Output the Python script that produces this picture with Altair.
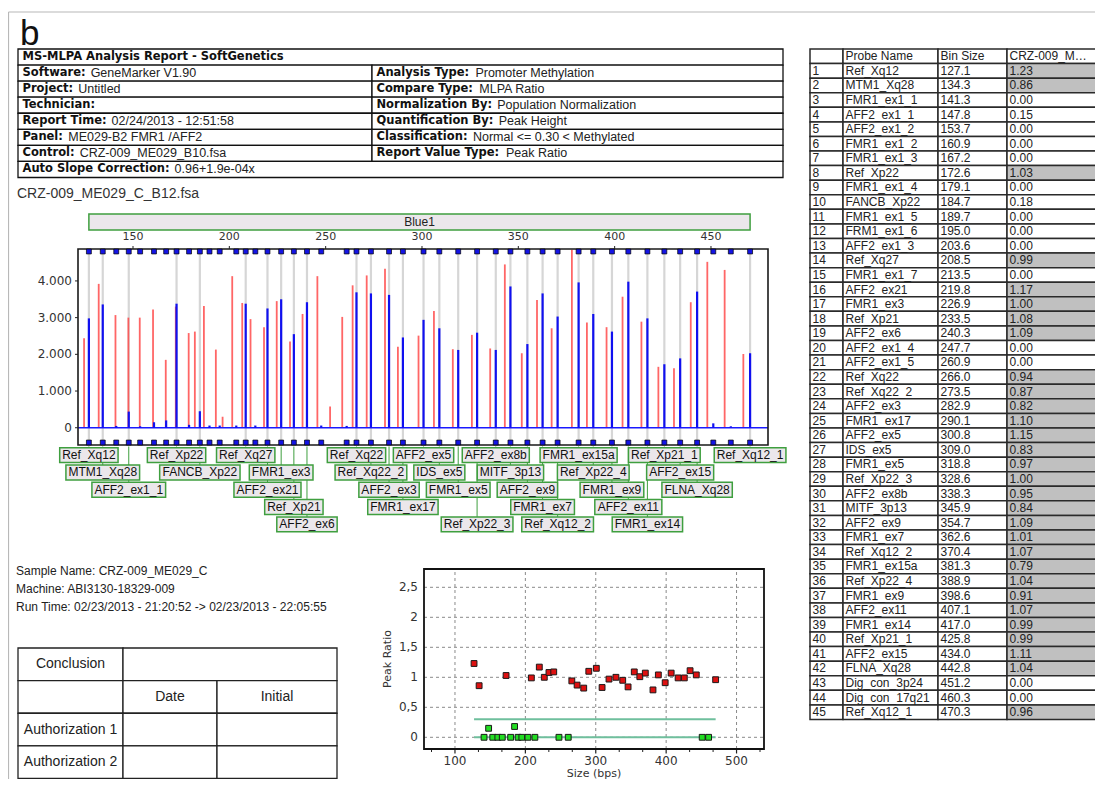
import altair as alt
import pandas as pd

# ------------------------------------------------------------------ data
probe_names = ["Ref_Xq12", "MTM1_Xq28", "FMR1_ex1_1", "AFF2_ex1_1", "AFF2_ex1_2", "FMR1_ex1_2",
               "FMR1_ex1_3", "Ref_Xp22", "FMR1_ex1_4", "FANCB_Xp22", "FMR1_ex1_5", "FRM1_ex1_6",
               "AFF2_ex1_3", "Ref_Xq27", "FMR1_ex1_7", "AFF2_ex21", "FMR1_ex3", "Ref_Xp21",
               "AFF2_ex6", "AFF2_ex1_4", "AFF2_ex1_5", "Ref_Xq22", "Ref_Xq22_2", "AFF2_ex3",
               "FMR1_ex17", "AFF2_ex5", "IDS_ex5", "FMR1_ex5", "Ref_Xp22_3", "AFF2_ex8b",
               "MITF_3p13", "AFF2_ex9", "FMR1_ex7", "Ref_Xq12_2", "FMR1_ex15a", "Ref_Xp22_4",
               "FMR1_ex9", "AFF2_ex11", "FMR1_ex14", "Ref_Xp21_1", "AFF2_ex15", "FLNA_Xq28",
               "Dig_con_3p24", "Dig_con_17q21", "Ref_Xq12_1"]
bin_sizes = [127.1, 134.3, 141.3, 147.8, 153.7, 160.9, 167.2, 172.6, 179.1, 184.7, 189.7, 195.0,
             203.6, 208.5, 213.5, 219.8, 226.9, 233.5, 240.3, 247.7, 260.9, 266.0, 273.5, 282.9,
             290.1, 300.8, 309.0, 318.8, 328.6, 338.3, 345.9, 354.7, 362.6, 370.4, 381.3, 388.9,
             398.6, 407.1, 417.0, 425.8, 434.0, 442.8, 451.2, 460.3, 470.3]
peak_ratios = [1.23, 0.86, 0.00, 0.15, 0.00, 0.00, 0.00, 1.03, 0.00, 0.18, 0.00, 0.00,
               0.00, 0.99, 0.00, 1.17, 1.00, 1.08, 1.09, 0.00, 0.00, 0.94, 0.87, 0.82,
               1.10, 1.15, 0.83, 0.97, 1.00, 0.95, 0.84, 1.09, 1.01, 1.07, 0.79, 1.04,
               0.91, 1.07, 0.99, 0.99, 1.11, 1.04, 0.00, 0.00, 0.96]
# sample trace (blue) peak heights, one per probe
blue_heights = [2980, 3360, 50, 440, 40, 150, 200, 3380, 80, 450, 60, 60,
                60, 3380, 60, 3250, 3500, 2550, 3420, 60, 50, 3690, 3660, 3620,
                2460, 2940, 2710, 2120, 2590, 2120, 3850, 2280, 3660, 3030, 3960, 3100,
                2620, 3980, 2980, 1730, 1890, 3710, 120, 40, 2030]
# control trace (red) peaks
red_sizes = [124.6, 132.2, 140.9, 147.6, 153.5, 160.4, 167.0, 172.2, 178.9, 182.1,
             186.8, 193.0, 196.5, 201.5, 206.7, 211.0, 218.0, 224.6, 231.5, 238.0,
             245.7, 252.3, 258.6, 264.0, 271.3, 280.8, 287.5, 298.2, 306.2, 316.0,
             325.9, 335.4, 343.0, 351.8, 359.7, 367.3, 377.8, 385.6, 395.8, 404.1,
             413.9, 422.7, 430.8, 439.5, 448.1, 457.1, 466.8]
red_heights = [2440, 3920, 3070, 3000, 3000, 3220, 1850, 3300, 2580, 2620,
               3320, 2130, 300, 4130, 3400, 2960, 2740, 3450, 2350, 3100,
               4130, 580, 3020, 3880, 4150, 4330, 2210, 2510, 3180, 2140,
               2530, 2160, 4450, 2030, 3480, 2710, 4850, 2870, 2740, 3570,
               2890, 1660, 1620, 3420, 4520, 4300, 2010]
cutoff = 0.30

figure_letter = "b"
sample_file = "CRZ-009_ME029_C_B12.fsa"
report_title = "MS-MLPA Analysis Report  - SoftGenetics"
report_left_labels = ["Software:", "Project:", "Technician:", "Report Time:", "Panel:", "Control:"]
report_left_values = ["GeneMarker V1.90", "Untitled", "", "02/24/2013 - 12:51:58",
                      "ME029-B2 FMR1 /AFF2", "CRZ-009_ME029_B10.fsa"]
report_right_labels = ["Analysis Type:", "Compare Type:", "Normalization By:",
                       "Quantification By:", "Classification:", "Report Value Type:"]
report_right_values = ["Promoter Methylation", "MLPA Ratio", "Population Normalization",
                       "Peak Height", "Normal <= 0.30 < Methylated", "Peak Ratio"]
slope_label = "Auto Slope Correction:"
slope_value = "0.96+1.9e-04x"
dye_name = "Blue1"
sample_info = ["Sample Name: CRZ-009_ME029_C", "Machine: ABI3130-18329-009",
               "Run Time: 02/23/2013 - 21:20:52 -> 02/23/2013 - 22:05:55"]
conclusion_texts = ["Conclusion", "Date", "Initial", "Authorization 1", "Authorization 2"]
table_headers = ["", "Probe Name", "Bin Size", "CRZ-009_ME029"]
electro_x_ticks = [150, 200, 250, 300, 350, 400, 450]
electro_y_ticks = [0, 1000, 2000, 3000, 4000]
scatter_x_ticks = [100, 200, 300, 400, 500]
scatter_y_ticks = [0, 0.5, 1, 1.5, 2, 2.5]
scatter_x_title = "Size (bps)"
scatter_y_title = "Peak Ratio"

# ------------------------------------------------------------------ layout / style
W, H = 1087, 771


def P(v):
    return v - 8


ARIAL_F = "Liberation Sans, Arial, sans-serif"
DEJA_F = "DejaVu Sans, Verdana, sans-serif"

ARIAL = {}
for ch, w in zip("ABCDEFGHIJKLMNOPQRSTUVWXYZ",
                 [667, 667, 722, 722, 667, 611, 778, 722, 278, 500, 667, 556, 833, 722, 778,
                  667, 778, 722, 667, 611, 722, 667, 944, 667, 667, 611]):
    ARIAL[ch] = w
for ch, w in zip("abcdefghijklmnopqrstuvwxyz",
                 [556, 556, 500, 556, 556, 278, 556, 556, 222, 222, 500, 222, 833, 556, 556,
                  556, 556, 333, 500, 278, 556, 500, 722, 500, 500, 500]):
    ARIAL[ch] = w
for ch in "0123456789_":
    ARIAL[ch] = 556
ARIAL.update({" ": 278, ".": 278, "-": 333, ":": 278, "/": 278})

DJB = {}
for ch, w in zip("ABCDEFGHIJKLMNOPQRSTUVWXYZ",
                 [774, 762, 734, 830, 683, 683, 821, 837, 372, 372, 775, 637, 995, 837, 850,
                  733, 850, 770, 720, 682, 812, 774, 1103, 771, 724, 725]):
    DJB[ch] = w
for ch, w in zip("abcdefghijklmnopqrstuvwxyz",
                 [675, 716, 593, 716, 678, 435, 716, 712, 343, 343, 665, 343, 1042, 712, 687,
                  716, 716, 493, 595, 478, 712, 652, 924, 645, 652, 582]):
    DJB[ch] = w
for ch in "0123456789":
    DJB[ch] = 696
DJB.update({" ": 348, ":": 400, ".": 380, "-": 415, "_": 500})


def text_w(s, size, table):
    return sum(table.get(c, 600) for c in s) * size / 1000.0


def lin(domain, r0, r1):
    return alt.Scale(domain=list(domain), range=[P(r0), P(r1)], nice=False, zero=False)


def txt(chart_df, xs, ys, **mk):
    return alt.Chart(chart_df).mark_text(**mk).encode(
        x=alt.X("x:Q", scale=xs, axis=None),
        y=alt.Y("y:Q", scale=ys, axis=None),
        text="text:N")


def seg(chart_df, xs, ys, x2=None, y2=None, mark="rule", **mk):
    enc = dict(x=alt.X("x0:Q", scale=xs, axis=None), y=alt.Y("y0:Q", scale=ys, axis=None))
    if x2:
        enc["x2"] = x2
    if y2:
        enc["y2"] = y2
    base = alt.Chart(chart_df)
    m = base.mark_rule(**mk) if mark == "rule" else base.mark_rect(**mk)
    return m.encode(**enc)


# ------------------------------------------------------------------ page frame
fx = lin([0, 1], 8.5, 1103)
fy = lin([0, 1], 12, 787)
page_df = pd.DataFrame({"x0": [0, 0], "x1": [1, 0], "y0": [0, 0], "y1": [0, 1]})
page = seg(page_df, fx, fy, x2="x1:Q", y2="y1:Q", color="#b8b8b8", strokeWidth=1.2)

# ------------------------------------------------------------------ captions
cap_x = lin([0, 1], 20, 17)
cap_y = lin([0, 1], 45, 193.5)
cap_df = pd.DataFrame({"text": [figure_letter, sample_file], "x": [0, 1], "y": [0, 1]})
captions = alt.layer(
    txt(cap_df.iloc[[0]], cap_x, cap_y, align="left", baseline="alphabetic",
        font=ARIAL_F, fontSize=35, color="#111"),
    txt(cap_df.iloc[[1]], cap_x, cap_y, align="left", baseline="middle",
        font=ARIAL_F, fontSize=14, color="#333"),
)

# ------------------------------------------------------------------ report table
rx = lin([0, 765], 18, 783)
ry = lin([0, 8], 49, 177.5)
SPLIT = 354
rcells = [dict(x0=0, x1=765, y0=0, y1=1)]
for i in range(1, 7):
    rcells.append(dict(x0=0, x1=SPLIT, y0=i, y1=i + 1))
    rcells.append(dict(x0=SPLIT, x1=765, y0=i, y1=i + 1))
rcells.append(dict(x0=0, x1=765, y0=7, y1=8))
rcells = pd.DataFrame(rcells)

bold_rows, norm_rows = [], []
PADL = 4.5
bold_rows.append(dict(text=report_title, x=PADL, y=0.5))
for i, (lab, val) in enumerate(zip(report_left_labels, report_left_values)):
    bold_rows.append(dict(text=lab, x=PADL, y=i + 1.5))
    norm_rows.append(dict(text=val, x=PADL + text_w(lab, 11.5, DJB) + 5, y=i + 1.5))
for i, (lab, val) in enumerate(zip(report_right_labels, report_right_values)):
    bold_rows.append(dict(text=lab, x=SPLIT + PADL, y=i + 1.5))
    norm_rows.append(dict(text=val, x=SPLIT + PADL + text_w(lab, 11.5, DJB) + 5, y=i + 1.5))
bold_rows.append(dict(text=slope_label, x=PADL, y=7.5))
norm_rows.append(dict(text=slope_value, x=PADL + text_w(slope_label, 11.5, DJB) + 5, y=7.5))

report = alt.layer(
    seg(rcells, rx, ry, x2="x1:Q", y2="y1:Q", mark="rect", fill="white", stroke="#111",
        strokeWidth=1.3),
    txt(pd.DataFrame(bold_rows), rx, ry, align="left", baseline="middle",
        font=DEJA_F, fontSize=11.5, fontWeight="bold", color="#111"),
    txt(pd.DataFrame(norm_rows), rx, ry, align="left", baseline="middle",
        font=ARIAL_F, fontSize=12.5, color="#222"),
)

# ------------------------------------------------------------------ electropherogram
EP_X = [121.45, 479.6]
EP_Y = [-470, 4870]
EP_L, EP_R, EP_T, EP_B = 78, 768, 249, 445
ex = lin(EP_X, EP_L, EP_R)
ey = lin(EP_Y, EP_B, EP_T)
PX_PER_UNIT = (EP_R - EP_L) / (EP_X[1] - EP_X[0])
PY_PER_UNIT = (EP_B - EP_T) / (EP_Y[1] - EP_Y[0])

probe_df = pd.DataFrame({"name": probe_names, "size": bin_sizes, "ratio": peak_ratios,
                         "blue": blue_heights})
probe_df["base"] = 0.0
probe_df["ylo"] = float(EP_Y[0])
probe_df["yhi"] = float(EP_Y[1])
present = probe_df[probe_df["ratio"] > 0].reset_index(drop=True)
red_df = pd.DataFrame({"size": red_sizes, "h": red_heights})
red_df["base"] = 0.0
ebox = pd.DataFrame([{"x0": EP_X[0], "x1": EP_X[1], "y0": EP_Y[0], "y1": EP_Y[1], "zero": 0.0}])
etick_x = pd.DataFrame({"x0": electro_x_ticks, "y0": EP_Y[1],
                        "y1": EP_Y[1] + 3 / PY_PER_UNIT})
etick_y = pd.DataFrame({"y0": electro_y_ticks, "x0": EP_X[0],
                        "x1": EP_X[0] - 3 / PX_PER_UNIT})

electro = alt.layer(
    alt.Chart(present).mark_rule(color="#d6d6d6", strokeWidth=2.2).encode(
        x=alt.X("size:Q", scale=ex, axis=None),
        y=alt.Y("ylo:Q", scale=ey, axis=None), y2="yhi:Q"),
    alt.Chart(red_df).mark_rule(color="#ff4040", strokeWidth=1.8, opacity=0.8).encode(
        x=alt.X("size:Q", scale=ex, axis=None),
        y=alt.Y("base:Q", scale=ey, axis=None), y2="h:Q"),
    alt.Chart(ebox).mark_rule(color="#1a1aff", strokeWidth=1.4).encode(
        x=alt.X("x0:Q", scale=ex, axis=None), x2="x1:Q",
        y=alt.Y("zero:Q", scale=ey, axis=None)),
    alt.Chart(probe_df).mark_rule(color="#1010f0", strokeWidth=2.2).encode(
        x=alt.X("size:Q", scale=ex, axis=None),
        y=alt.Y("base:Q", scale=ey, axis=None), y2="blue:Q"),
    seg(ebox, ex, ey, x2="x1:Q", y2="y1:Q", mark="rect", fillOpacity=0, stroke="#1a1a1a",
        strokeWidth=1.6),
    seg(etick_x, ex, ey, y2="y1:Q", color="#222", strokeWidth=1),
    seg(etick_y, ex, ey, x2="x1:Q", color="#222", strokeWidth=1),
    alt.Chart(probe_df).mark_square(size=24, fill="#1414e6", stroke="#000", strokeWidth=0.7,
                                    opacity=1, yOffset=2.5).encode(
        x=alt.X("size:Q", scale=ex, axis=None),
        y=alt.Y("yhi:Q", scale=ey, axis=None)),
    alt.Chart(probe_df).mark_square(size=24, fill="#1414e6", stroke="#000", strokeWidth=0.7,
                                    opacity=1, yOffset=-2.5).encode(
        x=alt.X("size:Q", scale=ex, axis=None),
        y=alt.Y("ylo:Q", scale=ey, axis=None)),
)

# axis labels of the trace (through the trace scales)
etop_row = lin([0, 1], 237, 238)
etop_df = pd.DataFrame({"x": electro_x_ticks, "y": 0, "text": [str(v) for v in electro_x_ticks]})
electro_top = txt(etop_df, ex, etop_row, align="center", baseline="middle", font=DEJA_F,
                  fontSize=11, color="#333")
eleft_col = lin([0, 1], 72, 73)
eleft_df = pd.DataFrame({"x": 0, "y": electro_y_ticks,
                         "text": [f"{v:,}".replace(",", ".") for v in electro_y_ticks]})
electro_left = txt(eleft_df, eleft_col, ey, align="right", baseline="middle", font=DEJA_F,
                   fontSize=12, color="#333")

# dye bar above the trace
by = alt.Scale(domain=[dye_name], range=[P(214), P(230)], paddingInner=0, paddingOuter=0)
dye_df = pd.DataFrame({"dye": [dye_name], "x0": [min(bin_sizes)], "x1": [max(bin_sizes)],
                       "mid": [(min(bin_sizes) + max(bin_sizes)) / 2]})
dyebar = alt.layer(
    alt.Chart(dye_df).mark_rect(fill="#ebe7eb", stroke="#3f9f3f", strokeWidth=1.5).encode(
        x=alt.X("x0:Q", scale=ex, axis=None), x2="x1:Q",
        y=alt.Y("dye:N", scale=by, axis=None)),
    alt.Chart(dye_df).mark_text(font=ARIAL_F, fontSize=12, color="#222").encode(
        x=alt.X("mid:Q", scale=ex, axis=None),
        y=alt.Y("dye:N", scale=by, axis=None), text="dye:N"),
)

# probe name boxes (greedy row packing, centred on each probe)
LBL_SIZE, BOX_PAD, MIN_GAP, HALF_H = 12, 5, 5, 0.43
row_right = []
lab_rows = []
for name, s in zip(present["name"], present["size"]):
    cx = EP_L + (s - EP_X[0]) * PX_PER_UNIT
    w = text_w(name, LBL_SIZE, ARIAL) + BOX_PAD
    left, right = cx - w / 2, cx + w / 2
    row = None
    for r, rr in enumerate(row_right):
        if left >= rr + MIN_GAP:
            row = r
            row_right[r] = right
            break
    if row is None:
        row_right.append(right)
        row = len(row_right) - 1
    hu = (w / 2) / PX_PER_UNIT
    lab_rows.append(dict(name=name, size=s, x0=s - hu, x1=s + hu, row=row + 1,
                         y0=row + 1 - HALF_H, y1=row + 1 + HALF_H, top=0.5))
lab_df = pd.DataFrame(lab_rows)
ly = lin([0.5, 5.5], 446.5, 533)
labels = alt.layer(
    alt.Chart(lab_df).mark_rule(color="#3f9f3f", strokeWidth=1).encode(
        x=alt.X("size:Q", scale=ex, axis=None),
        y=alt.Y("top:Q", scale=ly, axis=None), y2="y0:Q"),
    seg(lab_df, ex, ly, x2="x1:Q", y2="y1:Q", mark="rect", fill="#ebe7eb", stroke="#3f9f3f",
        strokeWidth=1.5),
    alt.Chart(lab_df).mark_text(font=ARIAL_F, fontSize=LBL_SIZE, color="#111").encode(
        x=alt.X("size:Q", scale=ex, axis=None),
        y=alt.Y("row:Q", scale=ly, axis=None), text="name:N"),
)

# ------------------------------------------------------------------ sample info text
ix = lin([0, 1], 16, 17)
iy = lin([0, 2], 571, 607)
info_df = pd.DataFrame({"text": sample_info, "x": [0] * 3, "y": [0, 1, 2]})
info = txt(info_df, ix, iy, align="left", baseline="middle", font=ARIAL_F, fontSize=12,
           color="#222")

# ------------------------------------------------------------------ conclusion table
ccx = lin([0, 319], 18, 337)
ccy = lin([0, 4], 648, 778.5)
cedges = [0, 105, 199, 319]
ccells = [dict(x0=0, x1=105, y0=0, y1=1), dict(x0=105, x1=319, y0=0, y1=1)]
for r in range(1, 4):
    for c in range(3):
        ccells.append(dict(x0=cedges[c], x1=cedges[c + 1], y0=r, y1=r + 1))
ccells = pd.DataFrame(ccells)
ctext = pd.DataFrame({
    "text": conclusion_texts,
    "x": [(cedges[0] + cedges[1]) / 2, (cedges[1] + cedges[2]) / 2,
          (cedges[2] + cedges[3]) / 2, (cedges[0] + cedges[1]) / 2,
          (cedges[0] + cedges[1]) / 2],
    "y": [0.5, 1.5, 1.5, 2.5, 3.5]})
conclusion = alt.layer(
    seg(ccells, ccx, ccy, x2="x1:Q", y2="y1:Q", mark="rect", fill="white", stroke="#222",
        strokeWidth=1.3),
    txt(ctext, ccx, ccy, align="center", baseline="middle", font=ARIAL_F, fontSize=14,
        color="#222"),
)

# ------------------------------------------------------------------ peak ratio scatter
SC_X = [56, 539]
SC_Y = [-0.195, 2.805]
SC_L, SC_R, SC_T, SC_B = 424, 764, 569, 749
sx = lin(SC_X, SC_L, SC_R)
sy = lin(SC_Y, SC_B, SC_T)
SY_PX = (SC_B - SC_T) / (SC_Y[1] - SC_Y[0])
gx = pd.DataFrame({"x0": scatter_x_ticks, "y0": SC_Y[0], "y1": SC_Y[1]})
gy = pd.DataFrame({"y0": scatter_y_ticks, "x0": SC_X[0], "x1": SC_X[1]})
thr = pd.DataFrame({"y0": [cutoff, 0.0], "x0": min(bin_sizes), "x1": max(bin_sizes)})
minor = [t + k * 100 / 3 for t in [0, 100, 200, 300, 400, 500] for k in (1, 2)]
minor = [m for m in minor if SC_X[0] < m < SC_X[1]]
minor_df = pd.DataFrame({"x0": minor, "y0": SC_Y[0], "y1": SC_Y[0] - 3 / SY_PX})
major_df = pd.DataFrame({"x0": scatter_x_ticks, "y0": SC_Y[0], "y1": SC_Y[0] - 4.5 / SY_PX})
sbox = pd.DataFrame([{"x0": SC_X[0], "x1": SC_X[1], "y0": SC_Y[0], "y1": SC_Y[1]}])

scatter = alt.layer(
    seg(gx, sx, sy, y2="y1:Q", color="#8a8a8a", strokeWidth=1, strokeDash=[3, 3]),
    seg(gy, sx, sy, x2="x1:Q", color="#8a8a8a", strokeWidth=1, strokeDash=[3, 3]),
    seg(thr, sx, sy, x2="x1:Q", color="#6fbf9d", strokeWidth=2),
    seg(minor_df, sx, sy, y2="y1:Q", color="#222", strokeWidth=1),
    seg(major_df, sx, sy, y2="y1:Q", color="#222", strokeWidth=1.2),
    seg(sbox, sx, sy, x2="x1:Q", y2="y1:Q", mark="rect", fillOpacity=0, stroke="#111",
        strokeWidth=1.8),
    alt.Chart(probe_df).mark_square(size=34, stroke="#1a1a1a", strokeWidth=1, opacity=1).encode(
        x=alt.X("size:Q", scale=sx, axis=None),
        y=alt.Y("ratio:Q", scale=sy, axis=None),
        fill=alt.condition(f"datum.ratio > {cutoff}", alt.value("#dd1111"),
                           alt.value("#22dd22"))),
)

# scatter axis labels and titles (through the scatter scales)
sb_row = lin([0, 1], 761, 773.5)
sb_df = pd.DataFrame({"x": scatter_x_ticks, "y": 0, "text": [str(v) for v in scatter_x_ticks]})
sb_title = pd.DataFrame({"x": [(SC_X[0] + SC_X[1]) / 2], "y": [1], "text": [scatter_x_title]})
scatter_bottom = alt.layer(
    txt(sb_df, sx, sb_row, align="center", baseline="middle", font=DEJA_F, fontSize=12,
        color="#333"),
    txt(sb_title, sx, sb_row, align="center", baseline="middle", font=DEJA_F, fontSize=11,
        color="#333"),
)
sl_col = lin([0, 1], 418, 388)
sl_df = pd.DataFrame({"x": 0, "y": scatter_y_ticks,
                      "text": [("%g" % v).replace(".", ",") for v in scatter_y_ticks]})
sl_title = pd.DataFrame({"x": [1], "y": [(SC_Y[0] + SC_Y[1]) / 2], "text": [scatter_y_title]})
scatter_left = alt.layer(
    txt(sl_df, sl_col, sy, align="right", baseline="middle", font=DEJA_F, fontSize=12,
        color="#333"),
    txt(sl_title, sl_col, sy, align="center", baseline="middle", angle=270, font=DEJA_F,
        fontSize=11, color="#333"),
)

# ------------------------------------------------------------------ probe table (right)
tx = lin([0, 292], 810, 1102)
ty = lin([0, 46], 49, 719.5)
col_edges = [0, 33, 128, 197, 292]
tcells, ttexts, tvals = [], [], []
for r in range(46):
    for c in range(4):
        if r == 0:
            t = table_headers[c]
            fill = "white"
        else:
            i = r - 1
            t = [str(r), probe_names[i], f"{bin_sizes[i]:.1f}", f"{peak_ratios[i]:.2f}"][c]
            fill = "#c0c0c0" if (c == 3 and peak_ratios[i] > cutoff) else "white"
        tcells.append(dict(x0=col_edges[c], x1=col_edges[c + 1], y0=r, y1=r + 1, fill=fill))
        (tvals if c == 3 else ttexts).append(dict(text=t, x=col_edges[c] + 2.5, y=r + 0.5))
table = alt.layer(
    alt.Chart(pd.DataFrame(tcells)).mark_rect(stroke="#2a2a2a", strokeWidth=1.5).encode(
        x=alt.X("x0:Q", scale=tx, axis=None), x2="x1:Q",
        y=alt.Y("y0:Q", scale=ty, axis=None), y2="y1:Q",
        fill=alt.Fill("fill:N", scale=None)),
    txt(pd.DataFrame(ttexts), tx, ty, align="left", baseline="middle", font=ARIAL_F,
        fontSize=12, color="#222"),
    txt(pd.DataFrame(tvals), tx, ty, align="left", baseline="middle", font=ARIAL_F,
        fontSize=12, color="#222", limit=83),
)

# ------------------------------------------------------------------ assemble
chart = alt.layer(
    page, captions, report, dyebar, electro, electro_top, electro_left, labels, info,
    conclusion, scatter, scatter_bottom, scatter_left, table
).resolve_scale(x="independent", y="independent").properties(
    width=W, height=H, padding=0, autosize=alt.AutoSizeParams(type="none")
).configure_view(stroke=None)

chart.save("out.html", embed_options={"renderer": "svg", "actions": False})
